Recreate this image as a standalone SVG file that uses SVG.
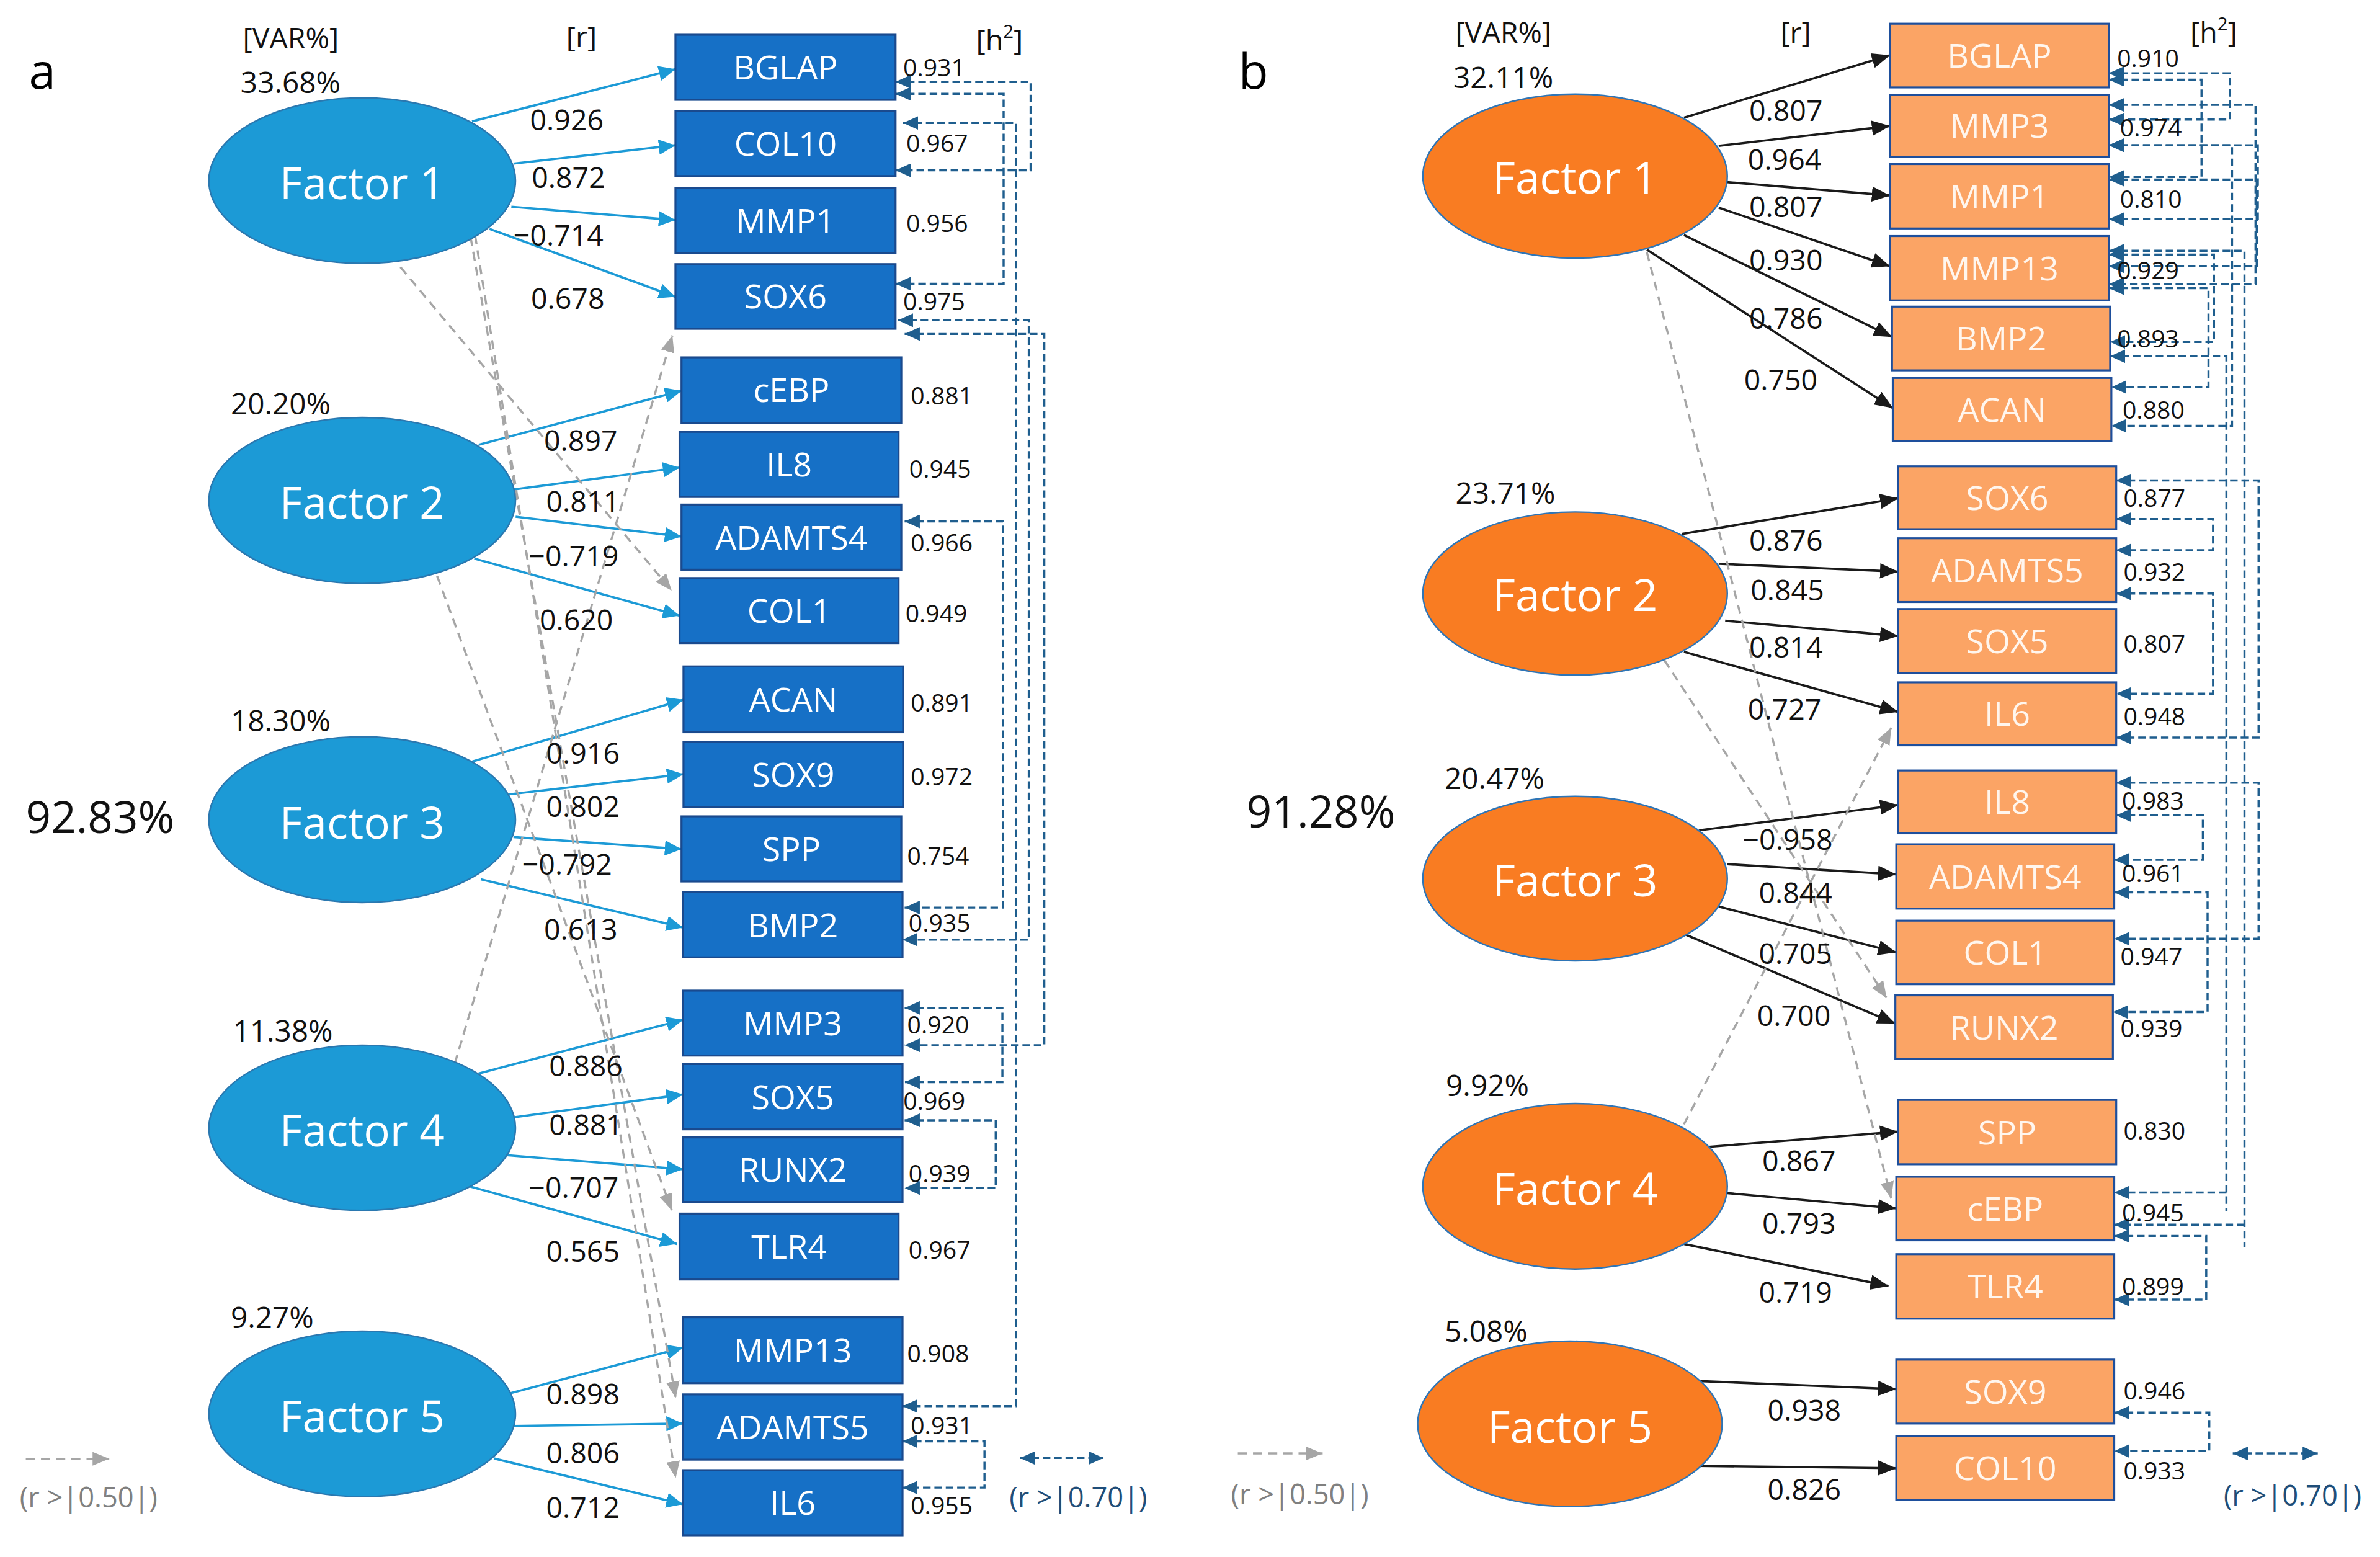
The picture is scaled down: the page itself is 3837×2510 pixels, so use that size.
<svg xmlns="http://www.w3.org/2000/svg" width="3837" height="2510" viewBox="0 0 3837 2510">
<style>
text{font-family:'Open Sans','Liberation Sans',sans-serif}
.lbl{font-size:32px;fill:#000}
.hdr{font-size:19px;fill:#111}
.pct{font-size:19.5px;fill:#111}
.tot{font-size:29px;fill:#111}
.fac{font-size:29px;fill:#fff;text-anchor:middle}
.box{font-size:22px;fill:#fff;text-anchor:middle}
.boxb{font-size:22px;fill:#FFF6EE;text-anchor:middle}
.rv{font-size:19px;fill:#111}
.h2{font-size:16px;fill:#111}
.lg1{font-size:18.5px;fill:#808080}
.lg2{font-size:18.5px;fill:#1F4E79}
.ea{fill:#1C9AD6;stroke:#2A78B0;stroke-width:1}
.eb{fill:#F97C22;stroke:#2E75B6;stroke-width:1}
.ra{fill:#1670C6;stroke:#1A4A8E;stroke-width:1.3}
.rb{fill:#FBA465;stroke:#1E4F9C;stroke-width:1.3}
.la{fill:none;stroke:#1C9AD6;stroke-width:1.5;marker-end:url(#mBlue)}
.lb{fill:none;stroke:#1A1A1A;stroke-width:1.5;marker-end:url(#mBlack)}
.lg{fill:none;stroke:#A6A6A6;stroke-width:1.4;stroke-dasharray:6 4;marker-end:url(#mGray)}
.lt{fill:none;stroke:#1F5E8E;stroke-width:1.4;stroke-dasharray:5 2.5;marker-start:url(#mTeal);marker-end:url(#mTeal)}
</style>
<defs>
<marker id="mBlue" markerUnits="userSpaceOnUse" markerWidth="11" markerHeight="10" refX="11" refY="5" orient="auto"><path d="M0,0 L11,5 L0,10 z" fill="#1C9AD6"/></marker>
<marker id="mBlack" markerUnits="userSpaceOnUse" markerWidth="12" markerHeight="10" refX="12" refY="5" orient="auto"><path d="M0,0 L12,5 L0,10 z" fill="#1A1A1A"/></marker>
<marker id="mGray" markerUnits="userSpaceOnUse" markerWidth="11" markerHeight="9" refX="11" refY="4.5" orient="auto"><path d="M0,0 L11,4.5 L0,9 z" fill="#A6A6A6"/></marker>
<marker id="mTeal" markerUnits="userSpaceOnUse" markerWidth="10" markerHeight="9" refX="10" refY="4.5" orient="auto-start-reverse"><path d="M0,0 L10,4.5 L0,9 z" fill="#1F5E8E"/></marker>
</defs>
<rect width="3837" height="2510" fill="#fff"/>
<g transform="scale(2.44707)">
<!-- Panel a headers -->
<g id="a-headers">
<text class="lbl" x="19" y="58.5">a</text>
<text class="hdr" x="160" y="32">[VAR%]</text>
<text class="hdr" x="373" y="31">[r]</text>
<text class="hdr" x="643" y="33">[h<tspan font-size="12" dy="-8">2</tspan><tspan dy="8">]</tspan></text>
<text class="tot" x="17" y="549">92.83%</text>
<text class="pct" x="158.5" y="61.5">33.68%</text>
<text class="pct" x="152" y="273">20.20%</text>
<text class="pct" x="152" y="482">18.30%</text>
<text class="pct" x="153.4" y="686">11.38%</text>
<text class="pct" x="152" y="875">9.27%</text>
</g>
<!-- Panel b headers -->
<g id="b-headers">
<text class="lbl" x="816" y="58.5">b</text>
<text class="hdr" x="958.9" y="28">[VAR%]</text>
<text class="hdr" x="1173" y="28">[r]</text>
<text class="hdr" x="1443" y="28">[h<tspan font-size="12" dy="-8">2</tspan><tspan dy="8">]</tspan></text>
<text class="tot" x="821.3" y="545">91.28%</text>
<text class="pct" x="957.5" y="58">32.11%</text>
<text class="pct" x="958.9" y="332">23.71%</text>
<text class="pct" x="951.7" y="520">20.47%</text>
<text class="pct" x="952.6" y="722">9.92%</text>
<text class="pct" x="951.7" y="884">5.08%</text>
</g>

<g id="connectors">
<!-- panel a loadings -->
<g id="a-loadings">
<path class="la" d="M311,80 L445,45.6"/>
<path class="la" d="M338.3,107.8 L445,95.7"/>
<path class="la" d="M336.9,136.2 L445,145"/>
<path class="la" d="M322.5,150.8 L445,195.5"/>
<path class="la" d="M315.4,293 L449,257.4"/>
<path class="la" d="M338.3,322.5 L447.7,308"/>
<path class="la" d="M339.7,340.4 L449,353.5"/>
<path class="la" d="M312.5,368 L447.7,405.6"/>
<path class="la" d="M311,501.7 L450.3,461"/>
<path class="la" d="M335.4,523.3 L450.3,510"/>
<path class="la" d="M338.3,551.4 L449,559.4"/>
<path class="la" d="M316.8,579.3 L450,611"/>
<path class="la" d="M315.4,707.2 L450,671.8"/>
<path class="la" d="M336.9,736.3 L450,721"/>
<path class="la" d="M334,761 L450,770.3"/>
<path class="la" d="M309.6,781.6 L446,819.5"/>
<path class="la" d="M335.4,918 L450,887.8"/>
<path class="la" d="M338.3,939.4 L450,937.8"/>
<path class="la" d="M325.4,960.8 L450,991"/>
</g>
<g id="a-cross">
<path class="lg" d="M263.8,176 L442.5,389"/>
<path class="lg" d="M310,156 L445.2,921"/>
<path class="lg" d="M313,155 L445.2,973.6"/>
<path class="lg" d="M288,379.5 L442.6,797.3"/>
<path class="lg" d="M299.6,700.7 L443,221"/>
</g>
<g id="a-corr">
<path class="lt" d="M590,53.9 H679 V112.2 H590"/>
<path class="lt" d="M590,61.8 H661.2 V186.9 H590"/>
<path class="lt" d="M595,81 H669.4 V926.3 H594.6"/>
<path class="lt" d="M591.5,211 H677.8 V619 H594.6"/>
<path class="lt" d="M596,220 H688 V688.6 H596"/>
<path class="lt" d="M596,343.5 H660.8 V597.9 H596"/>
<path class="lt" d="M596,664 H660.4 V712.9 H596"/>
<path class="lt" d="M596,738 H656 V782.7 H596"/>
<path class="lt" d="M594.6,949.5 H648.6 V980 H594.6"/>
</g>
<!-- panel b loadings -->
<g id="b-loadings">
<path class="lb" d="M1109.4,77.5 L1245.2,36.4"/>
<path class="lb" d="M1132.3,96.1 L1245.2,83"/>
<path class="lb" d="M1136.6,119.9 L1245.2,128.8"/>
<path class="lb" d="M1132.3,136.8 L1245.2,175.4"/>
<path class="lb" d="M1109.4,154.8 L1246.5,222"/>
<path class="lb" d="M1085,164.5 L1247,268.8"/>
<path class="lb" d="M1107.9,351.8 L1250.6,328.3"/>
<path class="lb" d="M1132.3,371.4 L1250.6,376.6"/>
<path class="lb" d="M1136.6,408.9 L1250.6,419"/>
<path class="lb" d="M1109.4,429.4 L1250.6,469"/>
<path class="lb" d="M1119.4,547 L1250.6,530.3"/>
<path class="lb" d="M1138,569.3 L1249.3,576"/>
<path class="lb" d="M1132.3,597.2 L1249.3,627.4"/>
<path class="lb" d="M1109.4,615.2 L1248.7,674.3"/>
<path class="lb" d="M1126,755.5 L1250.6,745.5"/>
<path class="lb" d="M1138,786 L1249.3,796"/>
<path class="lb" d="M1109.4,819.5 L1244.2,847.2"/>
<path class="lb" d="M1119.4,909.8 L1249.3,915.1"/>
<path class="lb" d="M1119.4,965.7 L1249.3,967.2"/>
</g>
<g id="b-cross">
<path class="lg" d="M1085,166.2 L1246,789.5"/>
<path class="lg" d="M1096.5,434.9 L1243,657.5"/>
<path class="lg" d="M1109.4,740.7 L1246,479.5"/>
</g>
<g id="b-corr">
<path class="lt" d="M1389.3,48.3 H1469 V78.8 H1389.3"/>
<path class="lt" d="M1389.3,52.5 H1450.4 V116.6 H1389.3"/>
<path class="lt" d="M1389.3,69.1 H1486 V187.2 H1389.3"/>
<path class="lt" d="M1389.3,95.7 H1487.5 V144.4 H1389.3"/>
<path class="lt" d="M1389.3,118.3 H1486.8 V175.4 H1389.3"/>
<path class="lt" d="M1389.3,95.7 H1470.5 V280.5 H1391"/>
<path class="lt" d="M1389.3,165.2 H1478.7 V821.4 M1478.7,806.8 H1392.9"/>
<path class="lt" d="M1389.3,167.7 H1458.6 V225.3 H1390.2"/>
<path class="lt" d="M1389.3,189.8 H1455 V255 H1391"/>
<path class="lt" d="M1390.2,234.7 H1466.8 V798 M1466.8,785.6 H1392.9"/>
<path class="lt" d="M1394.2,316.5 H1488 V485.9 H1394.2"/>
<path class="lt" d="M1394.2,341.9 H1458 V362.5 H1394.2"/>
<path class="lt" d="M1394.2,391 H1458 V457 H1394.2"/>
<path class="lt" d="M1394.2,515.6 H1488 V618.4 H1392.9"/>
<path class="lt" d="M1394.2,537.1 H1451.3 V566.4 H1392.9"/>
<path class="lt" d="M1392.9,587.9 H1454.4 V666.7 H1392"/>
<path class="lt" d="M1392.9,814.2 H1453.5 V856.1 H1392.9"/>
<path class="lt" d="M1392.9,930.6 H1455.5 V955.9 H1392.9"/>
</g>
<!-- legends -->
<g id="legends">
<path class="lg" d="M17,961 H72"/>
<path class="lt" d="M672,960.5 H727"/>
<path class="lg" d="M815.5,957.5 H871.4"/>
<path class="lt" d="M1471,957.5 H1527"/>
</g>
</g>

<g id="legend-text">
<text class="lg1" x="13" y="993">(r &gt;|0.50|)</text>
<text class="lg2" x="665" y="993">(r &gt;|0.70|)</text>
<text class="lg1" x="811" y="991">(r &gt;|0.50|)</text>
<text class="lg2" x="1465" y="992">(r &gt;|0.70|)</text>
</g>

<!-- r labels panel a -->
<g id="a-rvalues">
<text class="rv" x="349.2" y="86">0.926</text>
<text class="rv" x="350.3" y="124">0.872</text>
<text class="rv" x="338.3" y="162">−0.714</text>
<text class="rv" x="349.8" y="203.6">0.678</text>
<text class="rv" x="358.4" y="297">0.897</text>
<text class="rv" x="359.8" y="337">0.811</text>
<text class="rv" x="348.3" y="373">−0.719</text>
<text class="rv" x="355.5" y="415">0.620</text>
<text class="rv" x="359.8" y="503">0.916</text>
<text class="rv" x="359.8" y="538">0.802</text>
<text class="rv" x="344" y="576">−0.792</text>
<text class="rv" x="358.4" y="619">0.613</text>
<text class="rv" x="361.8" y="709">0.886</text>
<text class="rv" x="361.8" y="748">0.881</text>
<text class="rv" x="348.3" y="789">−0.707</text>
<text class="rv" x="359.8" y="831">0.565</text>
<text class="rv" x="359.8" y="925">0.898</text>
<text class="rv" x="359.8" y="964">0.806</text>
<text class="rv" x="359.8" y="1000">0.712</text>
</g>
<g id="b-rvalues">
<text class="rv" x="1152.4" y="79.5">0.807</text>
<text class="rv" x="1151.5" y="112">0.964</text>
<text class="rv" x="1152.4" y="143">0.807</text>
<text class="rv" x="1152.4" y="178">0.930</text>
<text class="rv" x="1152.4" y="216.5">0.786</text>
<text class="rv" x="1149" y="257">0.750</text>
<text class="rv" x="1152.4" y="363">0.876</text>
<text class="rv" x="1153.3" y="395.5">0.845</text>
<text class="rv" x="1152.4" y="433">0.814</text>
<text class="rv" x="1151.5" y="474">0.727</text>
<text class="rv" x="1148.1" y="560">−0.958</text>
<text class="rv" x="1158.7" y="595">0.844</text>
<text class="rv" x="1158.7" y="635">0.705</text>
<text class="rv" x="1157.6" y="676">0.700</text>
<text class="rv" x="1161" y="771.5">0.867</text>
<text class="rv" x="1161" y="813">0.793</text>
<text class="rv" x="1158.7" y="858">0.719</text>
<text class="rv" x="1164.5" y="936">0.938</text>
<text class="rv" x="1164.5" y="988">0.826</text>
</g>

<!-- panel a factors -->
<g id="a-factor1"><ellipse class="ea" cx="238.6" cy="119" rx="101" ry="54.5"/><text class="fac" x="238.6" y="131">Factor 1</text></g>
<g id="a-factor2"><ellipse class="ea" cx="238.6" cy="329.7" rx="101" ry="54.7"/><text class="fac" x="238.6" y="341.7">Factor 2</text></g>
<g id="a-factor3"><ellipse class="ea" cx="238.6" cy="540" rx="101" ry="54.6"/><text class="fac" x="238.6" y="552.5">Factor 3</text></g>
<g id="a-factor4"><ellipse class="ea" cx="238.6" cy="743" rx="101" ry="54.4"/><text class="fac" x="238.6" y="755">Factor 4</text></g>
<g id="a-factor5"><ellipse class="ea" cx="238.6" cy="931.5" rx="101" ry="54.5"/><text class="fac" x="238.6" y="943.5">Factor 5</text></g>

<!-- panel a variables -->
<g id="a-BGLAP"><rect class="ra" x="445" y="22.9" width="145" height="42.9"/><text class="box" x="517.5" y="52.4">BGLAP</text><text class="h2" x="595" y="50.3">0.931</text></g>
<g id="a-COL10"><rect class="ra" x="445" y="73" width="145" height="43"/><text class="box" x="517.5" y="102.5">COL10</text><text class="h2" x="597" y="100.3">0.967</text></g>
<g id="a-MMP1"><rect class="ra" x="445" y="124" width="145" height="42.7"/><text class="box" x="517.5" y="153.4">MMP1</text><text class="h2" x="597" y="152.8">0.956</text></g>
<g id="a-SOX6"><rect class="ra" x="445" y="174" width="145" height="42.6"/><text class="box" x="517.5" y="203.3">SOX6</text><text class="h2" x="595" y="204.2">0.975</text></g>
<g id="a-cEBP"><rect class="ra" x="449" y="235.4" width="144.8" height="43.2"/><text class="box" x="521.4" y="265">cEBP</text><text class="h2" x="600" y="266.4">0.881</text></g>
<g id="a-IL8"><rect class="ra" x="447.7" y="284.5" width="144.3" height="42.9"/><text class="box" x="519.85" y="314">IL8</text><text class="h2" x="599" y="314.7">0.945</text></g>
<g id="a-ADAMTS4"><rect class="ra" x="449" y="332.4" width="144.8" height="42.9"/><text class="box" x="521.4" y="361.9">ADAMTS4</text><text class="h2" x="600" y="363.3">0.966</text></g>
<g id="a-COL1"><rect class="ra" x="447.7" y="380.8" width="144.3" height="42.8"/><text class="box" x="519.85" y="410.2">COL1</text><text class="h2" x="596.5" y="410">0.949</text></g>
<g id="a-ACAN"><rect class="ra" x="450.3" y="439" width="144.7" height="43.4"/><text class="box" x="522.65" y="468.7">ACAN</text><text class="h2" x="600" y="468.9">0.891</text></g>
<g id="a-SOX9"><rect class="ra" x="450.3" y="488.8" width="144.7" height="42.7"/><text class="box" x="522.65" y="518.2">SOX9</text><text class="h2" x="600" y="517.5">0.972</text></g>
<g id="a-SPP"><rect class="ra" x="449" y="537.8" width="144.8" height="42.9"/><text class="box" x="521.4" y="567.3">SPP</text><text class="h2" x="597.7" y="569.7">0.754</text></g>
<g id="a-BMP2"><rect class="ra" x="450" y="587.8" width="144.6" height="42.9"/><text class="box" x="522.3" y="617.3">BMP2</text><text class="h2" x="598.6" y="613.7">0.935</text></g>
<g id="a-MMP3"><rect class="ra" x="450" y="652.6" width="144.6" height="42.8"/><text class="box" x="522.3" y="682">MMP3</text><text class="h2" x="597.7" y="681">0.920</text></g>
<g id="a-SOX5"><rect class="ra" x="450" y="701" width="144.6" height="43"/><text class="box" x="522.3" y="730.5">SOX5</text><text class="h2" x="595.1" y="731">0.969</text></g>
<g id="a-RUNX2"><rect class="ra" x="450" y="749.3" width="144.6" height="42.5"/><text class="box" x="522.3" y="778.6">RUNX2</text><text class="h2" x="598.6" y="778.9">0.939</text></g>
<g id="a-TLR4"><rect class="ra" x="447.7" y="799.5" width="144.3" height="43.4"/><text class="box" x="519.85" y="829.2">TLR4</text><text class="h2" x="598.6" y="829.1">0.967</text></g>
<g id="a-MMP13"><rect class="ra" x="450" y="867.8" width="144.6" height="43.4"/><text class="box" x="522.3" y="897.5">MMP13</text><text class="h2" x="597.7" y="897.6">0.908</text></g>
<g id="a-ADAMTS5"><rect class="ra" x="450" y="918.6" width="144.6" height="43"/><text class="box" x="522.3" y="948.1">ADAMTS5</text><text class="h2" x="600" y="944.8">0.931</text></g>
<g id="a-IL6"><rect class="ra" x="450" y="968.5" width="144.6" height="42.9"/><text class="box" x="522.3" y="998">IL6</text><text class="h2" x="600" y="997.7">0.955</text></g>

<!-- panel b factors -->
<g id="b-factor1"><ellipse class="eb" cx="1037.7" cy="116" rx="100.3" ry="54"/><text class="fac" x="1037.7" y="127.5">Factor 1</text></g>
<g id="b-factor2"><ellipse class="eb" cx="1037.7" cy="391" rx="100.3" ry="53.7"/><text class="fac" x="1037.7" y="402.5">Factor 2</text></g>
<g id="b-factor3"><ellipse class="eb" cx="1037.7" cy="578.8" rx="100.3" ry="54.2"/><text class="fac" x="1037.7" y="590.5">Factor 3</text></g>
<g id="b-factor4"><ellipse class="eb" cx="1037.7" cy="781.5" rx="100.3" ry="54.5"/><text class="fac" x="1037.7" y="793.5">Factor 4</text></g>
<g id="b-factor5"><ellipse class="eb" cx="1034.3" cy="938" rx="100.3" ry="54.5"/><text class="fac" x="1034.3" y="950.5">Factor 5</text></g>

<!-- panel b variables -->
<g id="b-BGLAP"><rect class="rb" x="1245.2" y="15.6" width="144.1" height="42"/><text class="boxb" x="1317.25" y="44.6">BGLAP</text><text class="h2" x="1394.8" y="44">0.910</text></g>
<g id="b-MMP3"><rect class="rb" x="1245.2" y="62.4" width="144.1" height="41"/><text class="boxb" x="1317.25" y="90.9">MMP3</text><text class="h2" x="1396.7" y="89.8">0.974</text></g>
<g id="b-MMP1"><rect class="rb" x="1245.2" y="108.1" width="144.1" height="42.4"/><text class="boxb" x="1317.25" y="137.3">MMP1</text><text class="h2" x="1396.7" y="136.9">0.810</text></g>
<g id="b-MMP13"><rect class="rb" x="1245.2" y="155.5" width="144.1" height="42.4"/><text class="boxb" x="1317.25" y="184.7">MMP13</text><text class="h2" x="1394.8" y="183.8">0.929</text></g>
<g id="b-BMP2"><rect class="rb" x="1246.5" y="202" width="143.7" height="42"/><text class="boxb" x="1318.35" y="231">BMP2</text><text class="h2" x="1394.8" y="229">0.893</text></g>
<g id="b-ACAN"><rect class="rb" x="1247" y="249" width="144" height="41.7"/><text class="boxb" x="1319" y="277.9">ACAN</text><text class="h2" x="1398.4" y="276">0.880</text></g>
<g id="b-SOX6"><rect class="rb" x="1250.6" y="307.2" width="143.6" height="41.4"/><text class="boxb" x="1322.4" y="335.9">SOX6</text><text class="h2" x="1399" y="333.8">0.877</text></g>
<g id="b-ADAMTS5"><rect class="rb" x="1250.6" y="354.6" width="143.6" height="42"/><text class="boxb" x="1322.4" y="383.6">ADAMTS5</text><text class="h2" x="1399" y="382.5">0.932</text></g>
<g id="b-SOX5"><rect class="rb" x="1250.6" y="401.2" width="143.6" height="42.3"/><text class="boxb" x="1322.4" y="430.4">SOX5</text><text class="h2" x="1399" y="430">0.807</text></g>
<g id="b-IL6"><rect class="rb" x="1250.6" y="449.5" width="143.6" height="41.5"/><text class="boxb" x="1322.4" y="478.3">IL6</text><text class="h2" x="1399" y="477.7">0.948</text></g>
<g id="b-IL8"><rect class="rb" x="1250.6" y="507.6" width="143.6" height="41.4"/><text class="boxb" x="1322.4" y="536.3">IL8</text><text class="h2" x="1398" y="533.2">0.983</text></g>
<g id="b-ADAMTS4"><rect class="rb" x="1249.3" y="556.2" width="143.6" height="42.4"/><text class="boxb" x="1321.1" y="585.4">ADAMTS4</text><text class="h2" x="1398" y="581.1">0.961</text></g>
<g id="b-COL1"><rect class="rb" x="1249.3" y="606.5" width="143.6" height="41.9"/><text class="boxb" x="1321.1" y="635.5">COL1</text><text class="h2" x="1397" y="635.9">0.947</text></g>
<g id="b-RUNX2"><rect class="rb" x="1248.7" y="655.7" width="143.3" height="42"/><text class="boxb" x="1320.35" y="684.7">RUNX2</text><text class="h2" x="1397" y="683.3">0.939</text></g>
<g id="b-SPP"><rect class="rb" x="1250.6" y="724.6" width="143.6" height="42.4"/><text class="boxb" x="1322.4" y="753.8">SPP</text><text class="h2" x="1399" y="750.6">0.830</text></g>
<g id="b-cEBP"><rect class="rb" x="1249.3" y="775.2" width="143.6" height="41.9"/><text class="boxb" x="1321.1" y="804.2">cEBP</text><text class="h2" x="1398" y="804.5">0.945</text></g>
<g id="b-TLR4"><rect class="rb" x="1249.3" y="826.2" width="143.6" height="42.5"/><text class="boxb" x="1321.1" y="855.5">TLR4</text><text class="h2" x="1398" y="853.2">0.899</text></g>
<g id="b-SOX9"><rect class="rb" x="1249.3" y="895.7" width="143.6" height="42.1"/><text class="boxb" x="1321.1" y="924.8">SOX9</text><text class="h2" x="1399" y="922">0.946</text></g>
<g id="b-COL10"><rect class="rb" x="1249.3" y="946" width="143.6" height="42.2"/><text class="boxb" x="1321.1" y="975.1">COL10</text><text class="h2" x="1399" y="974.5">0.933</text></g>
</g>
</svg>
